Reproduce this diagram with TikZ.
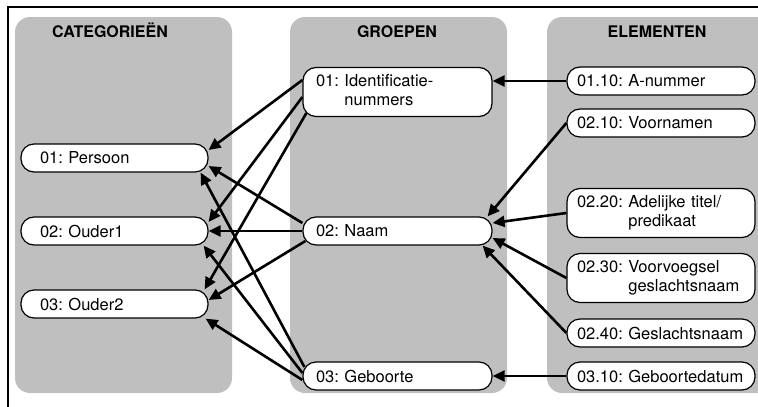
\documentclass[tikz,border=0pt]{standalone}
\usepackage{fontspec}
\setmainfont{TeX Gyre Heros}
\usetikzlibrary{arrows.meta, shapes, positioning}
\definecolor{colgray}{gray}{0.75}
\frenchspacing
\hyphenpenalty=10000
\newcommand{\twoline}[3]{\begin{tabular}{@{}l@{ }l@{}}#1 & #2\\ & #3\end{tabular}}

\begin{document}
\begin{tikzpicture}[x=1pt, y=1pt, node distance=73pt, >={Triangle[length=12pt, width=11pt]}]
\tikzstyle{column}=[fill=colgray, rounded corners=15pt]
\tikzstyle{title}=[anchor=base, font=\fontsize{16}{19}\selectfont\bfseries]
\tikzstyle{box}=[rectangle, draw=black, fill=white, line width=1.2pt, rounded corners=13pt, minimum height=28pt, inner ysep=5pt, align=left, font=\fontsize{16.5}{19.5}\selectfont]
\tikzstyle{cat_box}=[box, inner xsep=19pt, text width=149pt]
\tikzstyle{grp_box}=[box, inner xsep=13pt, text width=163pt]
\tikzstyle{elm_box}=[box, inner xsep=10pt, text width=168pt]
\tikzstyle{link}=[->, line width=2.6pt]
%
\useasboundingbox (0,0) rectangle (758,-407);
\clip (0,0) rectangle (758,-407);
\draw [line width=2pt] (780,-7) -- (8,-7) -- (8,-420);

\fill [column] (15,-17) rectangle (232,-393);
\fill [column] (290,-17) rectangle (507,-393);
\fill [column] (547,-17) rectangle (800,-393);

\node [title] (t_cat) at (110,-37) {CATEGORIEËN};
\node [title] (t_grp) at (397,-37) {GROEPEN};
\node [title] (t_elm) at (657,-37) {ELEMENTEN};
%
\node [cat_box] (p) at (114.5,-158) {01: Persoon};
\node [cat_box] (o1) [below of=p] {02: Ouder1};
\node [cat_box] (o2) [below of=o1] {03: Ouder2};
%
\node [grp_box] (id) at (397.5,-92) {\twoline{01:}{Identificatie-}{nummers}};
\node [grp_box] (naam) [node distance=139pt, below of=id] {02: Naam};
\node [grp_box] (geb) [node distance=145pt, below of=naam] {03: Geboorte};
%
\node [elm_box] (anr) at (661,-81) {01.10: A-nummer};
\node [elm_box] (vn) [node distance=42pt, below of=anr] {02.10: Voornamen};
\node [elm_box] (adel) [node distance=90pt, below of=vn] {\twoline{02.20:}{Adelijke titel/}{predikaat}};
\node [elm_box] (vv) [node distance=65pt, below of=adel] {\twoline{02.30:}{Voorvoegsel}{geslachtsnaam}};
\node [elm_box] (gn) [node distance=55pt, below of=vv] {02.40: Geslachtsnaam};
\node [elm_box] (gd) [node distance=43pt, below of=gn] {03.10: Geboortedatum};
%
\draw [link] (anr.west) -- (anr.west -| id.east);
\draw [link] (vn.west) -- ([xshift=-5pt]naam.north east);
\draw [link] (adel.west) -- ([yshift=8pt]naam.east);
\draw [link] (vv.west) -- ([yshift=-7pt]naam.east);
\draw [link] (gn.west) -- ([xshift=-10pt]naam.south east);
\draw [link] (gd.west) -- (geb.east);
%
\draw [link] ([yshift=12pt]id.west) -- ([yshift=8pt]p.east);
\draw [link] ([yshift=-5pt]id.west) -- ([yshift=9pt]o1.east);
\draw [link] ([xshift=4pt,yshift=-21pt]id.west) -- ([xshift=-4pt]o2.north east);
\draw [link] ([yshift=8pt]naam.west) -- ([yshift=-8pt]p.east);
\draw [link] (naam.west) -- (o1.east);
\draw [link] ([xshift=3pt,yshift=-10pt]naam.west) -- ([yshift=4pt]o2.east);
\draw [link] ([xshift=2pt,yshift=9pt]geb.west) -- ([xshift=-8pt]p.south east);
\draw [link] ([yshift=3pt]geb.west) -- ([xshift=-5pt]o1.south east);
\draw [link] ([yshift=-4pt]geb.west) -- ([xshift=-3pt]o2.south east);
\end{tikzpicture}
\end{document}
